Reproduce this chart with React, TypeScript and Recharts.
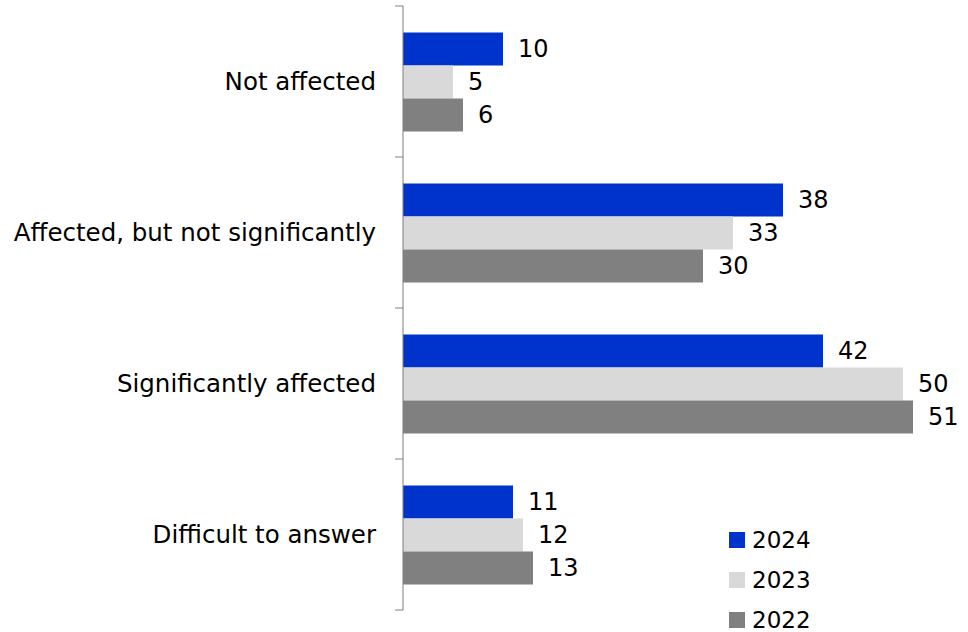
import { Bar, BarChart, LabelList, Legend, XAxis, YAxis } from "recharts";

const categories = [
  "Not affected",
  "Affected, but not significantly",
  "Significantly affected",
  "Difficult to answer",
];
const values2024 = [10, 38, 42, 11];
const values2023 = [5, 33, 50, 12];
const values2022 = [6, 30, 51, 13];
const seriesKeys = ["y2024", "y2023", "y2022"];
const seriesNames = ["2024", "2023", "2022"];
const seriesColors = ["#0033cc", "#d9d9d9", "#808080"];

const data = categories.map((name, i) => ({
  name,
  y2024: values2024[i],
  y2023: values2023[i],
  y2022: values2022[i],
}));

const FONT = "'DejaVu Sans', Verdana, sans-serif";
const TICK_SIZE = 8;
const TICK_MARGIN = 19;

function CategoryTick(props: any) {
  const { x, y, payload, index, visibleTicksCount } = props;
  const half = payload && payload.offset ? payload.offset : 75.5;
  const x1 = x + TICK_MARGIN;
  const x2 = x + TICK_MARGIN + TICK_SIZE;
  const last = index === (visibleTicksCount ?? categories.length) - 1;
  return (
    <g>
      <line x1={x1} x2={x2} y1={y - half} y2={y - half} stroke="#7f7f7f" strokeWidth={1} />
      {last && <line x1={x1} x2={x2} y1={y + half} y2={y + half} stroke="#7f7f7f" strokeWidth={1} />}
      <text x={x} y={y} textAnchor="end" dominantBaseline="central" fontSize={24.5} fill="#000" fontFamily={FONT}>
        {payload.value}
      </text>
    </g>
  );
}

// legend drawn from our own series arrays so the order stays 2024, 2023, 2022
function LegendContent() {
  return (
    <div style={{ fontFamily: FONT, fontSize: 23, color: "#000" }}>
      {seriesNames.map((name, i) => (
        <div key={name} style={{ display: "flex", alignItems: "center", height: 40 }}>
          <span style={{ width: 16, height: 16, background: seriesColors[i], display: "inline-block", marginRight: 7 }} />
          <span>{name}</span>
        </div>
      ))}
    </div>
  );
}

export default function App() {
  return (
    <div style={{ position: "absolute", left: 0, top: 0, width: 968, height: 632, background: "#fff" }}>
      <BarChart
        width={968}
        height={632}
        data={data}
        layout="vertical"
        margin={{ top: 6, right: 5, bottom: 22, left: 0 }}
        barCategoryGap="17.5%"
        barGap={0}
      >
        <XAxis type="number" domain={[0, 56]} hide />
        <YAxis
          dataKey="name"
          type="category"
          width={403}
          tickLine={false}
          tickSize={TICK_SIZE}
          tickMargin={TICK_MARGIN}
          axisLine={{ stroke: "#7f7f7f" }}
          tick={<CategoryTick />}
          interval={0}
        />
        <Legend
          layout="vertical"
          align="center"
          verticalAlign="middle"
          content={<LegendContent />}
          wrapperStyle={{ left: 729, top: 520, width: 120 }}
        />
        {seriesKeys.map((key, i) => (
          <Bar key={key} dataKey={key} name={seriesNames[i]} fill={seriesColors[i]} isAnimationActive={false}>
            <LabelList dataKey={key} position="right" offset={15} fill="#000" fontSize={24} fontFamily={FONT} />
          </Bar>
        ))}
      </BarChart>
    </div>
  );
}
